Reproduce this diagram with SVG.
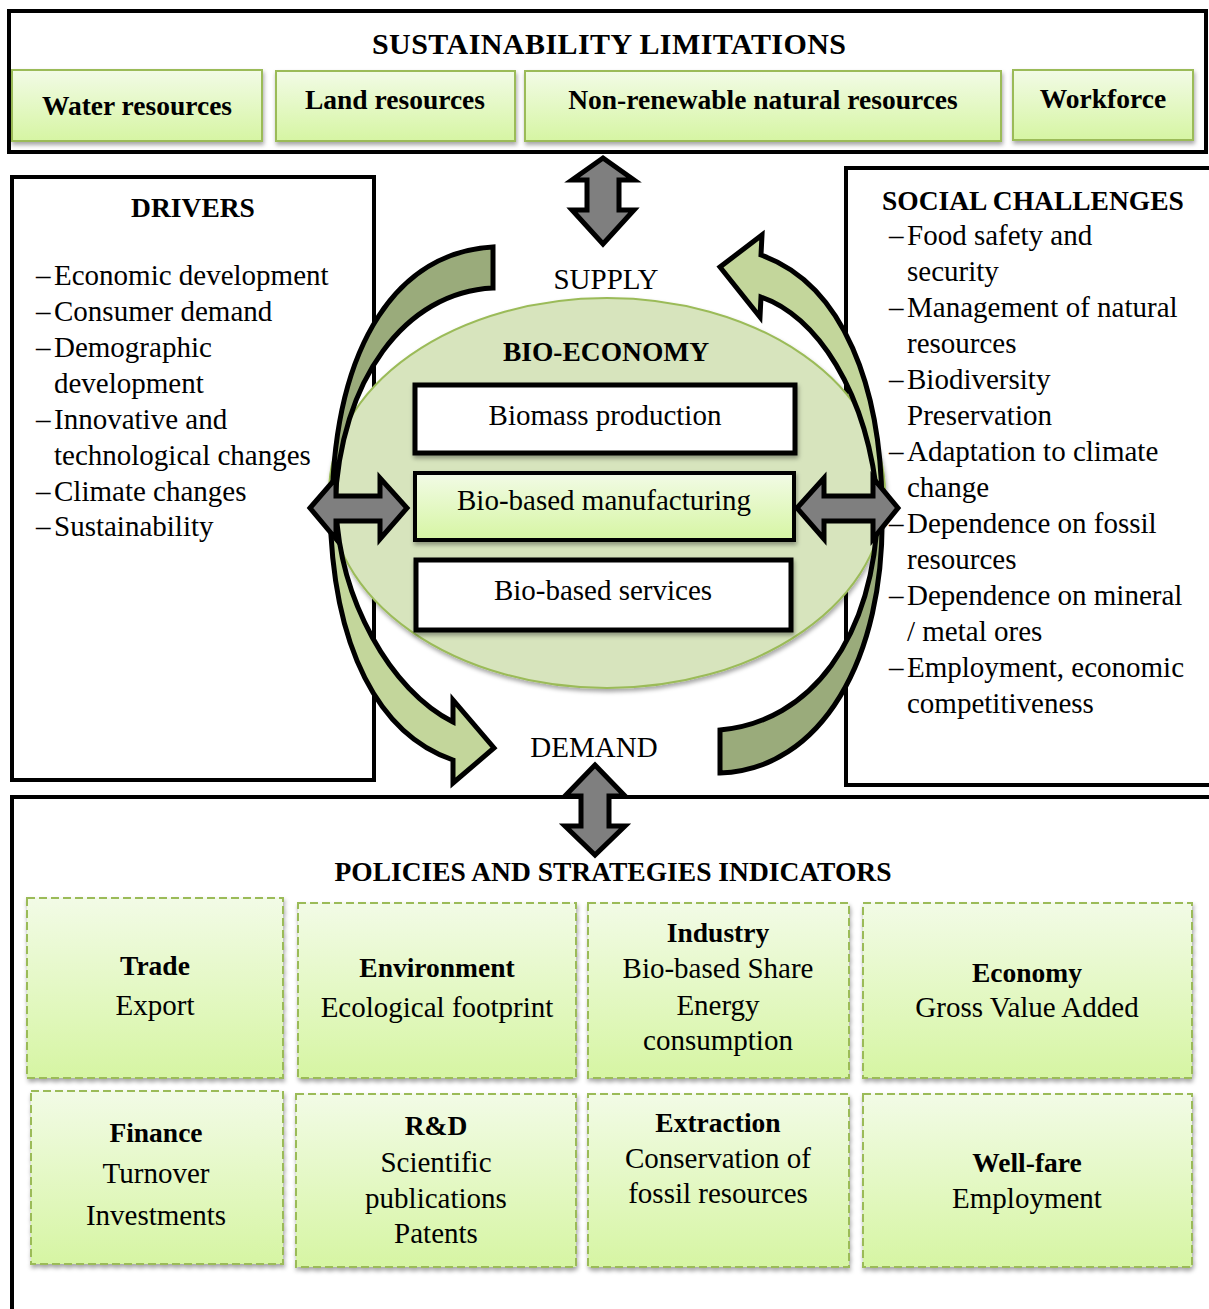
<svg xmlns="http://www.w3.org/2000/svg" width="1209" height="1309" viewBox="0 0 1209 1309">
<defs>
<style>
text{font-family:"Liberation Serif","DejaVu Serif","Times New Roman",serif;fill:#000}
.r{font-size:29px}
.b{font-size:27.5px;font-weight:bold}
.t{font-size:30px;font-weight:bold}
.c{text-anchor:middle}
.frame{fill:#fff;stroke:#000;stroke-width:4}
.gbox{fill:url(#g);stroke:#9bbb59;stroke-width:2;filter:url(#sh)}
.dbox{fill:url(#g);stroke:#9bbb59;stroke-width:2;stroke-dasharray:8 4;filter:url(#sh)}
.wbox{fill:#fff;stroke:#000;stroke-width:5;filter:url(#sh)}
.mbox{fill:url(#g);stroke:#000;stroke-width:4;filter:url(#sh)}
.dbl{fill:#7f7f7f;stroke:#000;stroke-width:5;stroke-linejoin:miter}
.band{stroke:#000;stroke-width:5;stroke-linejoin:miter}
.dark{fill:#9aab7b}
.light{fill:#c3d69b}
</style>
<linearGradient id="g" x1="0" y1="0" x2="0" y2="1">
<stop offset="0" stop-color="#f2fbe6"/>
<stop offset="1" stop-color="#d6f5a3"/>
</linearGradient>
<filter id="sh" x="-10%" y="-10%" width="125%" height="135%">
<feDropShadow dx="1" dy="3" stdDeviation="2" flood-color="#000" flood-opacity="0.35"/>
</filter>
</defs>

<!-- frames -->
<g id="sustainability">
<rect class="frame" x="9" y="11" width="1197" height="141"/>
<text class="t c" x="609" y="54" textLength="474">SUSTAINABILITY LIMITATIONS</text>
</g>
<g id="water"><rect class="gbox" x="12" y="70" width="250" height="71"/><text class="b c" x="137" y="115">Water resources</text></g>
<g id="land"><rect class="gbox" x="276" y="71" width="239" height="70"/><text class="b c" x="395" y="109">Land resources</text></g>
<g id="nonrenewable"><rect class="gbox" x="525" y="71" width="476" height="70"/><text class="b c" x="763" y="109">Non-renewable natural resources</text></g>
<g id="workforce"><rect class="gbox" x="1013" y="70" width="180" height="70"/><text class="b c" x="1103" y="108">Workforce</text></g>

<g id="drivers">
<rect class="frame" x="12" y="177" width="362" height="603"/>
<text class="b c" x="193" y="217">DRIVERS</text>
<text class="r"><tspan x="36" y="285">–</tspan><tspan x="54" y="285">Economic development</tspan></text>
<text class="r"><tspan x="36" y="321">–</tspan><tspan x="54" y="321">Consumer demand</tspan></text>
<text class="r"><tspan x="36" y="357">–</tspan><tspan x="54" y="357">Demographic</tspan></text>
<text class="r" x="54" y="393">development</text>
<text class="r"><tspan x="36" y="429">–</tspan><tspan x="54" y="429">Innovative and</tspan></text>
<text class="r" x="54" y="465">technological changes</text>
<text class="r"><tspan x="36" y="501">–</tspan><tspan x="54" y="501">Climate changes</tspan></text>
<text class="r"><tspan x="36" y="536">–</tspan><tspan x="54" y="536">Sustainability</tspan></text>
</g>

<g id="social">
<rect class="frame" x="846" y="168" width="380" height="617"/>
<text class="b" x="882" y="210">SOCIAL CHALLENGES</text>
<text class="r"><tspan x="889" y="245">–</tspan><tspan x="907" y="245">Food safety and</tspan></text>
<text class="r" x="907" y="281">security</text>
<text class="r"><tspan x="889" y="317">–</tspan><tspan x="907" y="317">Management of natural</tspan></text>
<text class="r" x="907" y="353">resources</text>
<text class="r"><tspan x="889" y="389">–</tspan><tspan x="907" y="389">Biodiversity</tspan></text>
<text class="r" x="907" y="425">Preservation</text>
<text class="r"><tspan x="889" y="461">–</tspan><tspan x="907" y="461">Adaptation to climate</tspan></text>
<text class="r" x="907" y="497">change</text>
<text class="r"><tspan x="889" y="533">–</tspan><tspan x="907" y="533">Dependence on fossil</tspan></text>
<text class="r" x="907" y="569">resources</text>
<text class="r"><tspan x="889" y="605">–</tspan><tspan x="907" y="605">Dependence on mineral</tspan></text>
<text class="r" x="907" y="641">/ metal ores</text>
<text class="r"><tspan x="889" y="677">–</tspan><tspan x="907" y="677">Employment, economic</tspan></text>
<text class="r" x="907" y="713">competitiveness</text>
</g>

<g id="policies">
<rect class="frame" x="12" y="797" width="1220" height="540"/>
<text class="b c" x="613" y="881">POLICIES AND STRATEGIES INDICATORS</text>
</g>

<!-- bio-economy -->
<g id="bioeconomy">
<ellipse cx="607" cy="493" rx="278" ry="195" fill="#d7e4bd" stroke="#9bbb59" stroke-width="2" filter="url(#sh)"/>
<text class="b c" x="606" y="361">BIO-ECONOMY</text>
</g>
<g id="biomass"><rect class="wbox" x="415" y="385" width="380" height="68"/><text class="r c" x="605" y="425">Biomass production</text></g>
<g id="manufacturing"><rect class="mbox" x="415" y="473" width="379" height="67"/><text class="r c" x="604" y="510">Bio-based manufacturing</text></g>
<g id="services"><rect class="wbox" x="416" y="560" width="375" height="70"/><text class="r c" x="603" y="600">Bio-based services</text></g>

<!-- indicators -->
<g id="trade"><rect class="dbox" x="27" y="898" width="256" height="180"/><text class="b c" x="155" y="975">Trade</text><text class="r c" x="155" y="1015">Export</text></g>
<g id="environment"><rect class="dbox" x="298" y="903" width="278" height="175"/><text class="b c" x="437" y="977">Environment</text><text class="r c" x="437" y="1017">Ecological footprint</text></g>
<g id="industry"><rect class="dbox" x="588" y="903" width="261" height="175"/><text class="b c" x="718" y="942">Industry</text><text class="r c" x="718" y="978">Bio-based Share</text><text class="r c" x="718" y="1015">Energy</text><text class="r c" x="718" y="1050">consumption</text></g>
<g id="economy"><rect class="dbox" x="863" y="903" width="329" height="175"/><text class="b c" x="1027" y="982">Economy</text><text class="r c" x="1027" y="1017">Gross Value Added</text></g>
<g id="finance"><rect class="dbox" x="31" y="1091" width="252" height="173"/><text class="b c" x="156" y="1142">Finance</text><text class="r c" x="156" y="1183">Turnover</text><text class="r c" x="156" y="1225">Investments</text></g>
<g id="rd"><rect class="dbox" x="296" y="1094" width="280" height="173"/><text class="b c" x="436" y="1135">R&amp;D</text><text class="r c" x="436" y="1172">Scientific</text><text class="r c" x="436" y="1208">publications</text><text class="r c" x="436" y="1243">Patents</text></g>
<g id="extraction"><rect class="dbox" x="588" y="1094" width="261" height="173"/><text class="b c" x="718" y="1132">Extraction</text><text class="r c" x="718" y="1168">Conservation of</text><text class="r c" x="718" y="1203">fossil resources</text></g>
<g id="welfare"><rect class="dbox" x="863" y="1094" width="329" height="173"/><text class="b c" x="1027" y="1172">Well-fare</text><text class="r c" x="1027" y="1208">Employment</text></g>

<!-- connectors -->
<g id="connectors">
<path class="band dark" d="M493,247 C400,252 335,340 332,505 L335,505 C340,380 405,292 493,288 Z"/>
<path class="band light" d="M336,508 C340,600 390,690 453,722 L453,700 L494,748 L453,783 L453,760 C380,735 332,650 330,508 Z"/>
<path class="band light" d="M761,255 L762,235 L720,267 L760,317 L761,297 C815,315 868,390 878,505 L882,505 C881,390 845,285 761,255 Z"/>
<path class="band dark" d="M720,730 C810,722 874,640 878,508 L882,508 C886,660 820,770 720,773 Z"/>
<polygon class="dbl" points="603,158 634,180 619,180 619,210 634,210 603,244 572,210 587,210 587,180 572,180"/>
<polygon class="dbl" points="595,765 625,796 609,796 609,826 625,826 595,855 565,826 581,826 581,796 565,796"/>
<polygon class="dbl" points="310,508 336,478 336,496 380,496 380,478 407,508 380,539 380,521 336,521 336,539"/>
<polygon class="dbl" points="797,508 824,478 824,496 873,496 873,478 898,508 873,539 873,521 824,521 824,539"/>
<text class="r c" x="606" y="289">SUPPLY</text>
<text class="r c" x="594" y="757">DEMAND</text>
</g>
</svg>
